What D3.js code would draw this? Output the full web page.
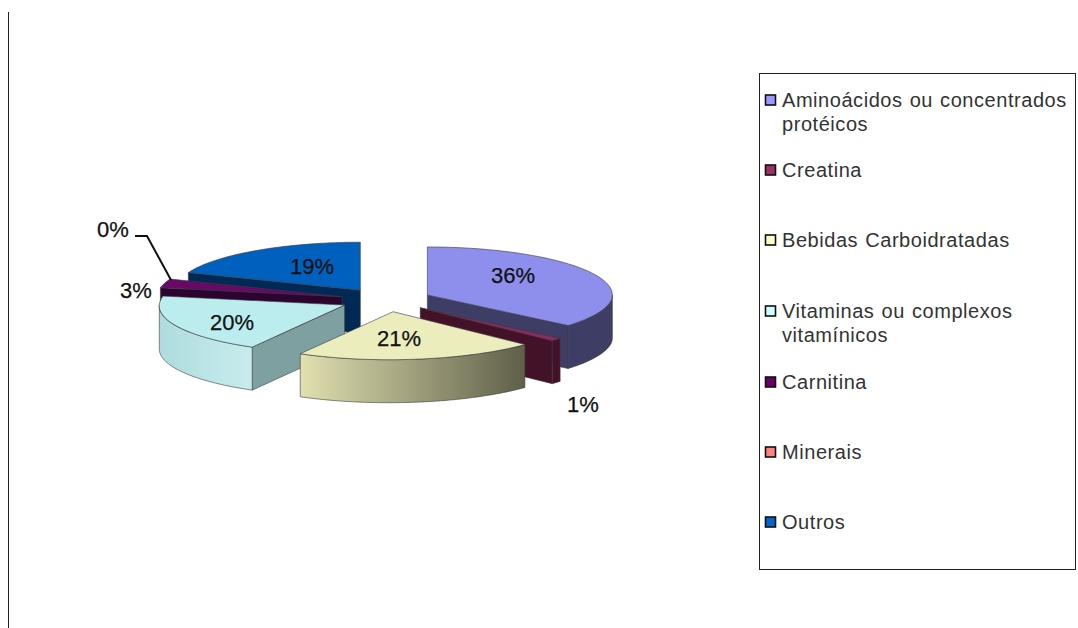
<!DOCTYPE html>
<html lang="pt">
<head>
<meta charset="utf-8">
<script src="https://cdn.jsdelivr.net/npm/d3@7"></script>
<style>
  html, body { margin: 0; padding: 0; background: #fff; }
  svg { display: block; }
  text { font-family: "Liberation Sans", Arial, sans-serif; }
</style>
</head>
<body>
<svg id="chart" width="1078" height="628"></svg>
<script>
// Supplement use by category, in percent.
const categories = ["Aminoácidos ou concentrados protéicos", "Creatina", "Bebidas Carboidratadas",
  "Vitaminas ou complexos vitamínicos", "Carnitina", "Minerais", "Outros"];
const values = [36, 1, 21, 20, 3, 0, 19];
const legendLines = [["Aminoácidos ou concentrados", "protéicos"], ["Creatina"], ["Bebidas Carboidratadas"],
  ["Vitaminas ou complexos", "vitamínicos"], ["Carnitina"], ["Minerais"], ["Outros"]];
const swatchColors = ["#9999ff", "#993366", "#ffffcc", "#ccffff", "#660066", "#ff8080", "#0066cc"];
const topColors = ["#8e8eec", "#8e2a60", "#ecedbd", "#bcedee", "#660a66", "#ee7777", "#0060bd"];
const faceColors = ["#3e3d66", "#431229", "#6a6a50", "#7fa0a0", "#2c0430", "#663333", "#002a55"];
const wallStops = [["#3e3d66", "#3e3d66"], ["#431229", "#431229"], ["#e0e0b0", "#5f5f4a"],
  ["#aedcde", "#c8ecee"], ["#2c0430", "#2c0430"], ["#663333", "#663333"], ["#002a55", "#002a55"]];

// Pie geometry: a flattened, exploded disc with a fixed wall height.
// "lean" shifts the near half of the disc sideways, as the 3D view does.
const pieLayout = { cx: 386, cy: 300, rx: 185, ry: 48, depth: 43, explode: 0.247, lean: 0.07 };
const labelLayout = [[513, 275], [583, 404], [399, 338], [232, 322], [136, 290], [113, 229], [312, 266]];
const leaderPath = [[135, 236], [147, 236], [171, 280]];
const legendBox = { x: 759.5, y: 73.5, w: 316, h: 496 };
const legendRows = [100, 170, 240, 311, 382, 452, 522];

const svg = d3.select("#chart");
const defs = svg.append("defs");

// Vertical rule at the left side of the page.
svg.append("line").attr("x1", 8.5).attr("x2", 8.5).attr("y1", 12).attr("y2", 628)
  .attr("stroke", "#222").attr("stroke-width", 1);

const slices = d3.pie().sort(null).value(d => d)(values)
  .map((s, i) => ({ ...s, i, mid: (s.startAngle + s.endAngle) / 2 }));

const { cx, cy, rx, ry, depth, explode, lean } = pieLayout;
const apex = s => [
  cx + explode * rx * Math.sin(s.mid),
  cy - explode * ry * Math.cos(s.mid)
];
const rim = (s, a) => {
  const [ax, ay] = apex(s);
  const y = ay - ry * Math.cos(a);
  return [ax + rx * Math.sin(a) - lean * Math.max(0, y - cy), y];
};
const arcPoints = (s, a0, a1) => d3.range(0, 61).map(k => rim(s, a0 + (a1 - a0) * k / 60));
const drop = p => [p[0], p[1] + depth];
const line = d3.line();
const outline = "#3a3a3a";

// Painted from the back of the disc to the front.
const paintOrder = [6, 4, 5, 0, 1, 3, 2];
const chart = svg.append("g");

paintOrder.forEach(i => {
  const s = slices[i];
  if (s.value === 0) return;
  const g = chart.append("g");
  const A = apex(s);

  // Cut faces that turn towards the viewer.
  [[s.endAngle, s.endAngle > 0 && s.endAngle < Math.PI],
   [s.startAngle, s.startAngle > Math.PI && s.startAngle < 2 * Math.PI]].forEach(([a, show]) => {
    if (!show) return;
    const R = rim(s, a);
    g.append("path").attr("d", line([A, R, drop(R), drop(A)]) + "Z")
      .attr("fill", faceColors[i]).attr("stroke", outline).attr("stroke-width", 0.6);
  });

  // Curved outer wall on the front half of the disc.
  const w0 = Math.max(s.startAngle, Math.PI / 2);
  const w1 = Math.min(s.endAngle, 3 * Math.PI / 2);
  if (w1 > w0) {
    const top = arcPoints(s, w0, w1);
    const xs = d3.extent(top, p => p[0]);
    const id = "wall" + i;
    const grad = defs.append("linearGradient").attr("id", id)
      .attr("gradientUnits", "userSpaceOnUse")
      .attr("x1", xs[0]).attr("x2", xs[1]).attr("y1", 0).attr("y2", 0);
    const stops = wallStops[i];
    grad.append("stop").attr("offset", 0).attr("stop-color", stops[0]);
    grad.append("stop").attr("offset", 1).attr("stop-color", stops[1]);
    g.append("path").attr("d", line(top.concat(top.map(drop).reverse())) + "Z")
      .attr("fill", `url(#${id})`).attr("stroke", outline).attr("stroke-width", 0.6);
  }

  // Top surface of the wedge.
  g.append("path").attr("d", line([A].concat(arcPoints(s, s.startAngle, s.endAngle))) + "Z")
    .attr("fill", topColors[i]).attr("stroke", outline).attr("stroke-width", 0.6);
});

// Percentage labels.
svg.append("g").selectAll("text").data(slices).join("text")
  .attr("x", d => labelLayout[d.i][0]).attr("y", d => labelLayout[d.i][1])
  .attr("text-anchor", "middle").attr("dominant-baseline", "central")
  .attr("font-size", 22).attr("fill", "#111").attr("stroke", "#111").attr("stroke-width", 0.25)
  .text(d => d.value + "%");

svg.append("path").attr("d", line(leaderPath)).attr("fill", "none")
  .attr("stroke", "#111").attr("stroke-width", 2);

// Legend.
const legend = svg.append("g");
legend.append("rect").attr("x", legendBox.x).attr("y", legendBox.y)
  .attr("width", legendBox.w).attr("height", legendBox.h)
  .attr("fill", "#fff").attr("stroke", "#222").attr("stroke-width", 1);

const rows = legend.selectAll("g").data(categories).join("g")
  .attr("transform", (d, i) => `translate(0,${legendRows[i]})`);
rows.append("rect").attr("x", 765.5).attr("y", -5).attr("width", 10).attr("height", 10)
  .attr("fill", (d, i) => swatchColors[i]).attr("stroke", "#111").attr("stroke-width", 1.6);
rows.each(function (d, i) {
  d3.select(this).selectAll("text").data(legendLines[i]).join("text")
    .attr("x", 782).attr("y", (t, k) => k * 24)
    .attr("dominant-baseline", "central")
    .attr("font-size", 20).attr("letter-spacing", 0.55).attr("word-spacing", 1).attr("fill", "#333")
    .text(t => t);
});
</script>
</body>
</html>
